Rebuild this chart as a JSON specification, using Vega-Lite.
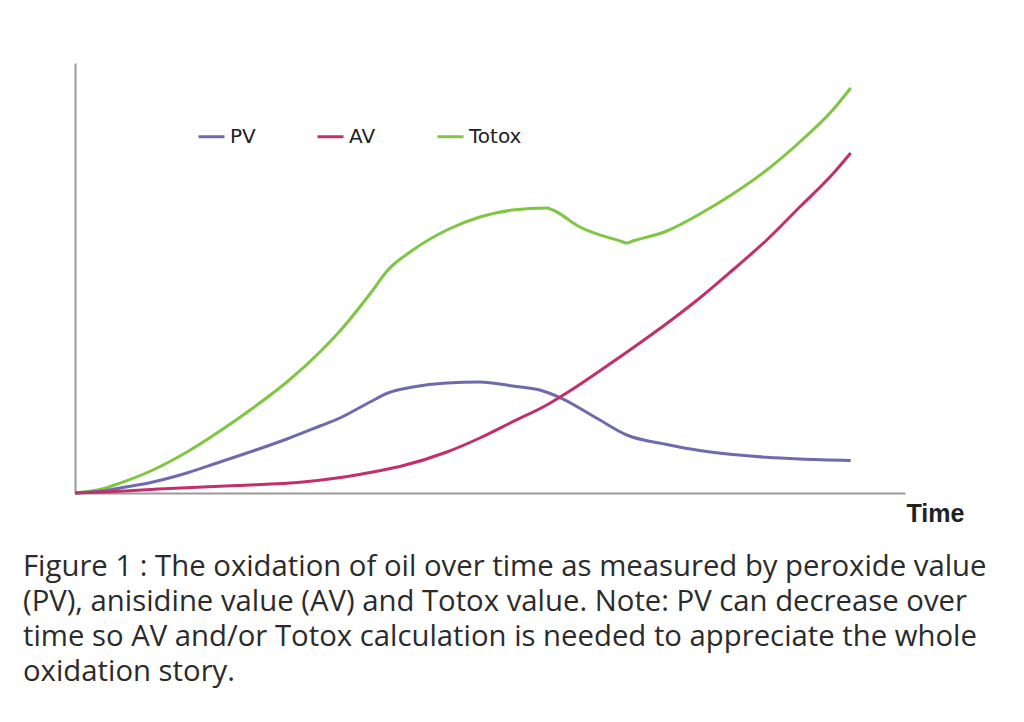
{
  "$schema": "https://vega.github.io/schema/vega-lite/v6.json",
  "autosize": {"type": "none"},
  "width": 830,
  "height": 430,
  "padding": {"left": 75, "top": 63, "right": 119, "bottom": 229},
  "background": "white",
  "title": {
    "text": [
      "Figure 1 : The oxidation of oil over time as measured by peroxide value",
      "(PV), anisidine value (AV) and Totox value. Note: PV can decrease over",
      "time so AV and/or Totox calculation is needed to appreciate the whole",
      "oxidation story."
    ],
    "orient": "bottom",
    "anchor": "start",
    "frame": "bounds",
    "dx": -46,
    "offset": 27,
    "font": "Open Sans",
    "fontSize": 29.3,
    "fontWeight": "normal",
    "lineHeight": 35,
    "color": "#2b2b2b",
    "baseline": "top"
  },
  "data": {
    "values": [
      {"t": 0, "v": 0, "s": "Totox"},
      {"t": 3.6, "v": 1.0, "s": "Totox"},
      {"t": 5.8, "v": 2.3, "s": "Totox"},
      {"t": 10.05, "v": 5.35, "s": "Totox"},
      {"t": 14.43, "v": 9.53, "s": "Totox"},
      {"t": 18.69, "v": 14.42, "s": "Totox"},
      {"t": 22.94, "v": 19.77, "s": "Totox"},
      {"t": 27.32, "v": 25.81, "s": "Totox"},
      {"t": 31.57, "v": 32.79, "s": "Totox"},
      {"t": 34.15, "v": 37.67, "s": "Totox"},
      {"t": 38.02, "v": 46.28, "s": "Totox"},
      {"t": 40.34, "v": 51.86, "s": "Totox"},
      {"t": 43.56, "v": 56.51, "s": "Totox"},
      {"t": 47.94, "v": 61.16, "s": "Totox"},
      {"t": 52.19, "v": 64.19, "s": "Totox"},
      {"t": 56.44, "v": 65.81, "s": "Totox"},
      {"t": 60.82, "v": 66.28, "s": "Totox"},
      {"t": 61.6, "v": 65.81, "s": "Totox"},
      {"t": 65.08, "v": 61.86, "s": "Totox"},
      {"t": 70.23, "v": 58.63, "s": "Totox"},
      {"t": 71.13, "v": 58.14, "s": "Totox"},
      {"t": 71.9, "v": 58.6, "s": "Totox"},
      {"t": 76.29, "v": 60.93, "s": "Totox"},
      {"t": 80.54, "v": 64.88, "s": "Totox"},
      {"t": 84.79, "v": 69.53, "s": "Totox"},
      {"t": 89.18, "v": 75.12, "s": "Totox"},
      {"t": 93.43, "v": 81.63, "s": "Totox"},
      {"t": 97.68, "v": 89.07, "s": "Totox"},
      {"t": 100, "v": 94.19, "s": "Totox"},

      {"t": 0, "v": 0, "s": "PV"},
      {"t": 3.6, "v": 0.45, "s": "PV"},
      {"t": 5.8, "v": 1.16, "s": "PV"},
      {"t": 10.05, "v": 2.56, "s": "PV"},
      {"t": 14.43, "v": 4.65, "s": "PV"},
      {"t": 18.69, "v": 7.21, "s": "PV"},
      {"t": 22.94, "v": 9.77, "s": "PV"},
      {"t": 27.32, "v": 12.56, "s": "PV"},
      {"t": 31.57, "v": 15.58, "s": "PV"},
      {"t": 34.15, "v": 17.44, "s": "PV"},
      {"t": 38.02, "v": 21.16, "s": "PV"},
      {"t": 40.34, "v": 23.26, "s": "PV"},
      {"t": 43.56, "v": 24.65, "s": "PV"},
      {"t": 47.94, "v": 25.58, "s": "PV"},
      {"t": 52.19, "v": 25.81, "s": "PV"},
      {"t": 56.44, "v": 24.88, "s": "PV"},
      {"t": 59.92, "v": 23.95, "s": "PV"},
      {"t": 62.72, "v": 22.02, "s": "PV"},
      {"t": 67.27, "v": 17.37, "s": "PV"},
      {"t": 71.13, "v": 13.49, "s": "PV"},
      {"t": 76.29, "v": 11.28, "s": "PV"},
      {"t": 80.54, "v": 9.88, "s": "PV"},
      {"t": 84.79, "v": 8.95, "s": "PV"},
      {"t": 89.18, "v": 8.3, "s": "PV"},
      {"t": 93.43, "v": 7.91, "s": "PV"},
      {"t": 100, "v": 7.56, "s": "PV"},

      {"t": 0, "v": 0, "s": "AV"},
      {"t": 3.61, "v": 0.23, "s": "AV"},
      {"t": 12.24, "v": 1.05, "s": "AV"},
      {"t": 20.88, "v": 1.74, "s": "AV"},
      {"t": 29.38, "v": 2.56, "s": "AV"},
      {"t": 33.76, "v": 3.49, "s": "AV"},
      {"t": 38.02, "v": 4.77, "s": "AV"},
      {"t": 41.88, "v": 6.16, "s": "AV"},
      {"t": 47.94, "v": 9.53, "s": "AV"},
      {"t": 52.19, "v": 12.79, "s": "AV"},
      {"t": 56.44, "v": 16.58, "s": "AV"},
      {"t": 60.82, "v": 20.47, "s": "AV"},
      {"t": 64.18, "v": 24.19, "s": "AV"},
      {"t": 68.56, "v": 29.53, "s": "AV"},
      {"t": 72.81, "v": 34.88, "s": "AV"},
      {"t": 77.06, "v": 40.47, "s": "AV"},
      {"t": 80.54, "v": 45.35, "s": "AV"},
      {"t": 84.79, "v": 51.86, "s": "AV"},
      {"t": 89.18, "v": 58.84, "s": "AV"},
      {"t": 93.43, "v": 66.51, "s": "AV"},
      {"t": 97.68, "v": 74.19, "s": "AV"},
      {"t": 100, "v": 79.07, "s": "AV"}
    ]
  },
  "mark": {"type": "line", "strokeWidth": 3, "interpolate": "monotone"},
  "encoding": {
    "x": {
      "field": "t",
      "type": "quantitative",
      "scale": {"domain": [0, 107], "nice": false, "zero": true},
      "axis": {
        "title": "Time",
        "labels": false,
        "ticks": false,
        "grid": false,
        "domainColor": "#9a9a9a",
        "domainWidth": 2,
        "titleX": 831,
        "titleY": 28,
        "titleAlign": "left",
        "titleAnchor": null,
        "titleBaseline": "alphabetic",
        "titleFont": "Liberation Sans",
        "titleFontSize": 25,
        "titleFontWeight": "bold",
        "titleColor": "#222222"
      }
    },
    "y": {
      "field": "v",
      "type": "quantitative",
      "scale": {"domain": [0, 100], "nice": false},
      "axis": {
        "title": null,
        "labels": false,
        "ticks": false,
        "grid": false,
        "domainColor": "#9a9a9a",
        "domainWidth": 2
      }
    },
    "color": {
      "field": "s",
      "type": "nominal",
      "scale": {"domain": ["PV", "AV", "Totox"], "range": ["#6e6aad", "#c2306b", "#7fc642"]},
      "legend": {
        "title": null,
        "orient": "none",
        "direction": "horizontal",
        "legendX": 122,
        "legendY": 59,
        "symbolType": "stroke",
        "symbolSize": 676,
        "symbolStrokeWidth": 3,
        "labelFont": "DejaVu Sans",
        "labelFontSize": 20,
        "labelColor": "#222222",
        "labelOffset": 4,
        "columnPadding": 55,
        "padding": 0
      }
    }
  },
  "config": {"view": {"stroke": null}}
}
